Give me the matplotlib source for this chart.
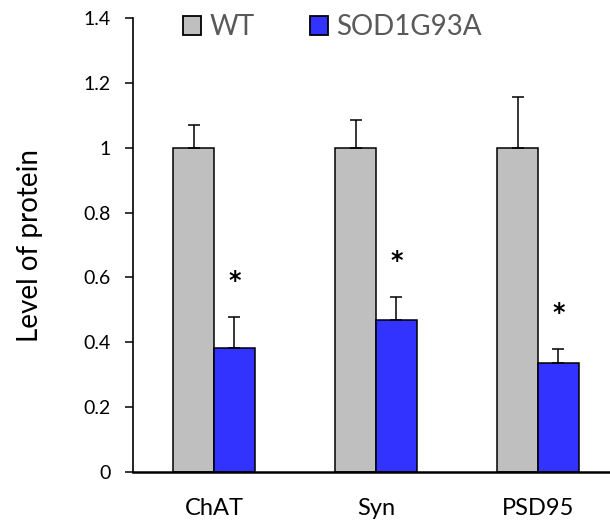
import matplotlib
matplotlib.use("Agg")
import matplotlib.pyplot as plt
import numpy as np
from matplotlib.patches import Patch

# data
categories = ["ChAT", "Syn", "PSD95"]
wt_mean = [1.0, 1.0, 1.0]
wt_err = [0.071, 0.084, 0.157]
sod_mean = [0.383, 0.469, 0.335]
sod_err = [0.095, 0.071, 0.045]
labels = ["WT", "SOD1G93A"]

plt.rcParams['font.family'] = ['Lato', 'DejaVu Sans']

fig = plt.figure(figsize=(6.1, 5.29), dpi=100)
ax = fig.add_axes([133 / 610, 57 / 529, (619 - 133) / 610, 454 / 529])

ind = np.arange(len(categories))
width = 0.253
ekw = dict(elinewidth=1.1, capthick=1.1, ecolor='black')

b1 = ax.bar(ind - width / 2, wt_mean, width, color='#bfbfbf', edgecolor='black', linewidth=1.1,
            yerr=[np.zeros(3), wt_err], capsize=4.3, error_kw=ekw, zorder=2)
b2 = ax.bar(ind + width / 2, sod_mean, width, color='#3333ff', edgecolor='black', linewidth=1.1,
            yerr=[np.zeros(3), sod_err], capsize=4.3, error_kw=ekw, zorder=2)

# significance stars above the mutant bars
for i in ind:
    ax.text(i + width / 2, sod_mean[i] + sod_err[i] + 0.11, '*', ha='center', va='center',
            fontsize=17, fontweight='bold', color='black', family=['DejaVu Sans'])

ax.set_xlim(-0.5, 2.5)
ax.set_ylim(0, 1.4)
ax.set_yticks(np.arange(0, 1.41, 0.2))
ax.set_yticklabels(['0', '0.2', '0.4', '0.6', '0.8', '1', '1.2', '1.4'])
ax.set_xticks(ind)
ax.set_xticklabels(categories)
ax.tick_params(axis='y', direction='out', length=6, width=1.1, labelsize=14, pad=10)
ax.tick_params(axis='x', length=0, labelsize=17, pad=19)
ax.set_ylabel('Level of protein', fontsize=20, va='center')
ax.yaxis.set_label_coords(-0.212, 0.5)

for s in ['top', 'right']:
    ax.spines[s].set_visible(False)
ax.spines['left'].set_linewidth(1.2)
ax.spines['bottom'].set_linewidth(1.8)

handles = [Patch(facecolor='#bfbfbf', edgecolor='black', linewidth=1.3),
           Patch(facecolor='#3333ff', edgecolor='black', linewidth=1.3)]
fig.legend(handles, labels, loc='upper left', bbox_to_anchor=(158 / 610, 1.02), ncol=2,
           frameon=False, fontsize=20, labelcolor='#595959', handlelength=0.65, handleheight=0.65,
           handletextpad=0.3, columnspacing=2.0)

fig.savefig('out.png', dpi=100)
